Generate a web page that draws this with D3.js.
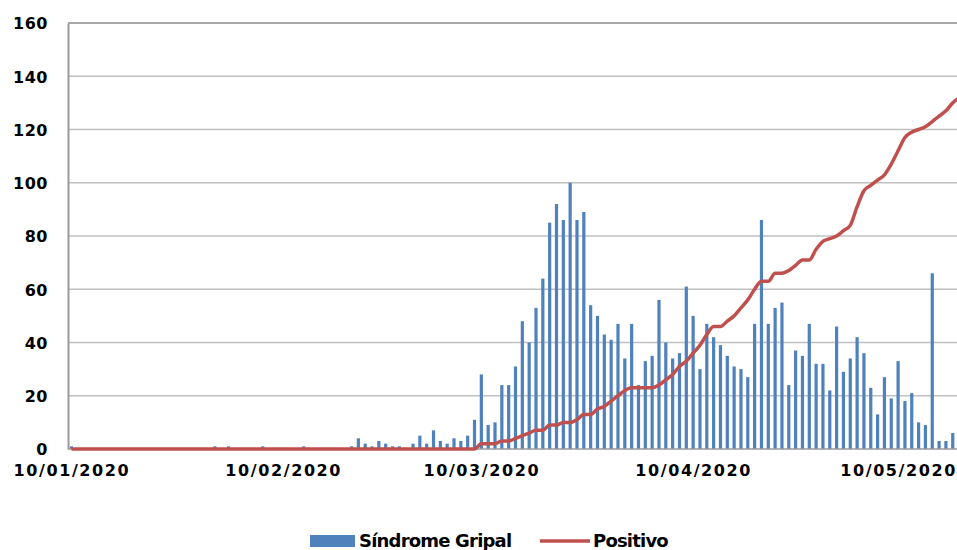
<!DOCTYPE html>
<html>
<head>
<meta charset="utf-8">
<script src="https://d3js.org/d3.v7.min.js"></script>
<style>
    body { margin: 0; background: #fff; }
    svg text { font-family: "DejaVu Sans", Verdana, sans-serif; font-weight: bold; fill: #000; }
</style>
</head>
<body>
<script>

    // daily values starting 10/01/2020
    var startDay = new Date(2020, 0, 10);

    var sindrome = [
        1, 0, 0, 0, 0, 0, 0, 0, 0, 0, 0, 0, 0, 0, 0, 0, 0, 0, 0, 0, 0,
        1, 0, 1, 0, 0, 0, 0, 1, 0, 0, 0, 0, 0, 1, 0, 0, 0, 0, 0, 0,
        1, 4, 2, 1, 3, 2, 1, 1, 0, 2, 5, 2, 7, 3, 2, 4, 3, 5, 11,
        28, 9, 10, 24, 24, 31, 48, 40, 53, 64, 85, 92, 86, 100, 86, 89, 54, 50, 43, 41,
        47, 34, 47, 24, 33, 35, 56, 40, 34, 36, 61, 50, 30, 47, 42, 39, 35, 31, 30, 27,
        47, 86, 47, 53, 55, 24, 37, 35, 47, 32, 32, 22, 46, 29, 34, 42, 36, 23, 13, 27,
        19, 33, 18, 21, 10, 9, 66, 3, 3, 6
    ];

    var positivo = [
        0, 0, 0, 0, 0, 0, 0, 0, 0, 0, 0, 0, 0, 0, 0, 0, 0, 0, 0, 0,
        0, 0, 0, 0, 0, 0, 0, 0, 0, 0, 0, 0, 0, 0, 0, 0, 0, 0, 0, 0,
        0, 0, 0, 0, 0, 0, 0, 0, 0, 0, 0, 0, 0, 0, 0, 0, 0, 0, 0, 0,
        2, 2, 2, 3, 3, 4, 5, 6, 7, 7,
        9, 9, 10, 10, 11, 13, 13, 15, 16, 18,
        20, 22, 23, 23, 23, 23, 24, 26, 28, 31,
        33, 36, 39, 43, 46, 46, 48, 50, 53, 56,
        60, 63, 63, 66, 66, 67, 69, 71, 71, 75,
        78, 79, 80, 82, 84, 91, 97, 99, 101, 103,
        107, 112, 117, 119, 120, 121, 123, 125, 127, 130, 132
    ];

    var yTicks = [0, 20, 40, 60, 80, 100, 120, 140, 160];
    var xTickDates = ["10/01/2020", "10/02/2020", "10/03/2020", "10/04/2020", "10/05/2020"];

    var seriesNames = ["Síndrome Gripal", "Positivo"];

    var parseDate = d3.timeParse("%d/%m/%Y");
    var dayOf = function (i) { return d3.timeDay.offset(startDay, i); };

    var width = 957, height = 550;
    var plot = { left: 68, right: 963, top: 23, bottom: 449 };

    var svg = d3.select("body").append("svg")
        .attr("width", width)
        .attr("height", height);

    // half a day of padding on each side, like a date axis between tick marks
    var xScale = d3.scaleTime()
        .domain([d3.timeHour.offset(startDay, -12), d3.timeHour.offset(dayOf(positivo.length - 1), 12)])
        .range([plot.left, plot.right]);

    var yScale = d3.scaleLinear()
        .domain([0, 160])
        .range([plot.bottom, plot.top]);

    // gridlines
    svg.append("g")
        .selectAll("line")
        .data(yTicks.slice(1))
        .enter().append("line")
        .attr("x1", plot.left)
        .attr("x2", width)
        .attr("y1", function (d) { return yScale(d); })
        .attr("y2", function (d) { return yScale(d); })
        .style("stroke", function (d) { return d === 160 ? "#8a8a8a" : "#c0c0c0"; })
        .style("stroke-width", 1.5);

    // y axis
    var yAxis = d3.axisLeft(yScale)
        .tickValues(yTicks)
        .tickSize(0)
        .tickPadding(20);

    var gy = svg.append("g")
        .attr("transform", "translate(" + plot.left + ",0)")
        .call(yAxis);
    gy.select(".domain").style("stroke", "#9a9a9a").style("stroke-width", 2);
    gy.selectAll("text")
        .style("font-size", "16px")
        .style("letter-spacing", "0.5px")
        .attr("dy", "0.36em");

    // bars
    var barWidth = 3.2;
    svg.append("g")
        .selectAll("rect")
        .data(sindrome)
        .enter().append("rect")
        .attr("x", function (d, i) { return xScale(dayOf(i)) - barWidth / 2; })
        .attr("y", function (d) { return yScale(d); })
        .attr("width", barWidth)
        .attr("height", function (d) { return plot.bottom - yScale(d); })
        .style("fill", "#4f81bd");

    // x axis baseline
    svg.append("line")
        .attr("x1", plot.left)
        .attr("x2", width)
        .attr("y1", plot.bottom)
        .attr("y2", plot.bottom)
        .style("stroke", "#9a9a9a")
        .style("stroke-width", 1.5);

    // positivo line
    var line = d3.line()
        .x(function (d, i) { return xScale(dayOf(i)); })
        .y(function (d) { return yScale(d); })
        .curve(d3.curveMonotoneX);

    svg.append("path")
        .datum(positivo)
        .attr("d", line)
        .style("fill", "none")
        .style("stroke", "#c0504d")
        .style("stroke-width", 3.5)
        .style("stroke-linejoin", "round");

    // x axis labels
    var xAxis = d3.axisBottom(xScale)
        .tickValues(xTickDates.map(parseDate))
        .tickFormat(d3.timeFormat("%d/%m/%Y"))
        .tickSize(0)
        .tickPadding(16);

    var gx = svg.append("g")
        .attr("transform", "translate(0," + plot.bottom + ")")
        .call(xAxis);
    gx.select(".domain").remove();
    gx.selectAll("text")
        .style("font-size", "16px")
        .style("letter-spacing", "1.6px");

    // legend
    var legend = svg.append("g").attr("transform", "translate(310,541)");

    legend.append("rect")
        .attr("x", 0)
        .attr("y", -6)
        .attr("width", 45)
        .attr("height", 12)
        .style("fill", "#4f81bd");

    legend.append("text")
        .attr("x", 49)
        .attr("dy", "0.36em")
        .style("font-size", "18px")
        .style("letter-spacing", "-0.8px")
        .text(seriesNames[0]);

    legend.append("line")
        .attr("x1", 230)
        .attr("x2", 280)
        .style("stroke", "#c0504d")
        .style("stroke-width", 3.5);

    legend.append("text")
        .attr("x", 283)
        .attr("dy", "0.36em")
        .style("font-size", "18px")
        .style("letter-spacing", "-0.8px")
        .text(seriesNames[1]);

</script>
</body>
</html>
